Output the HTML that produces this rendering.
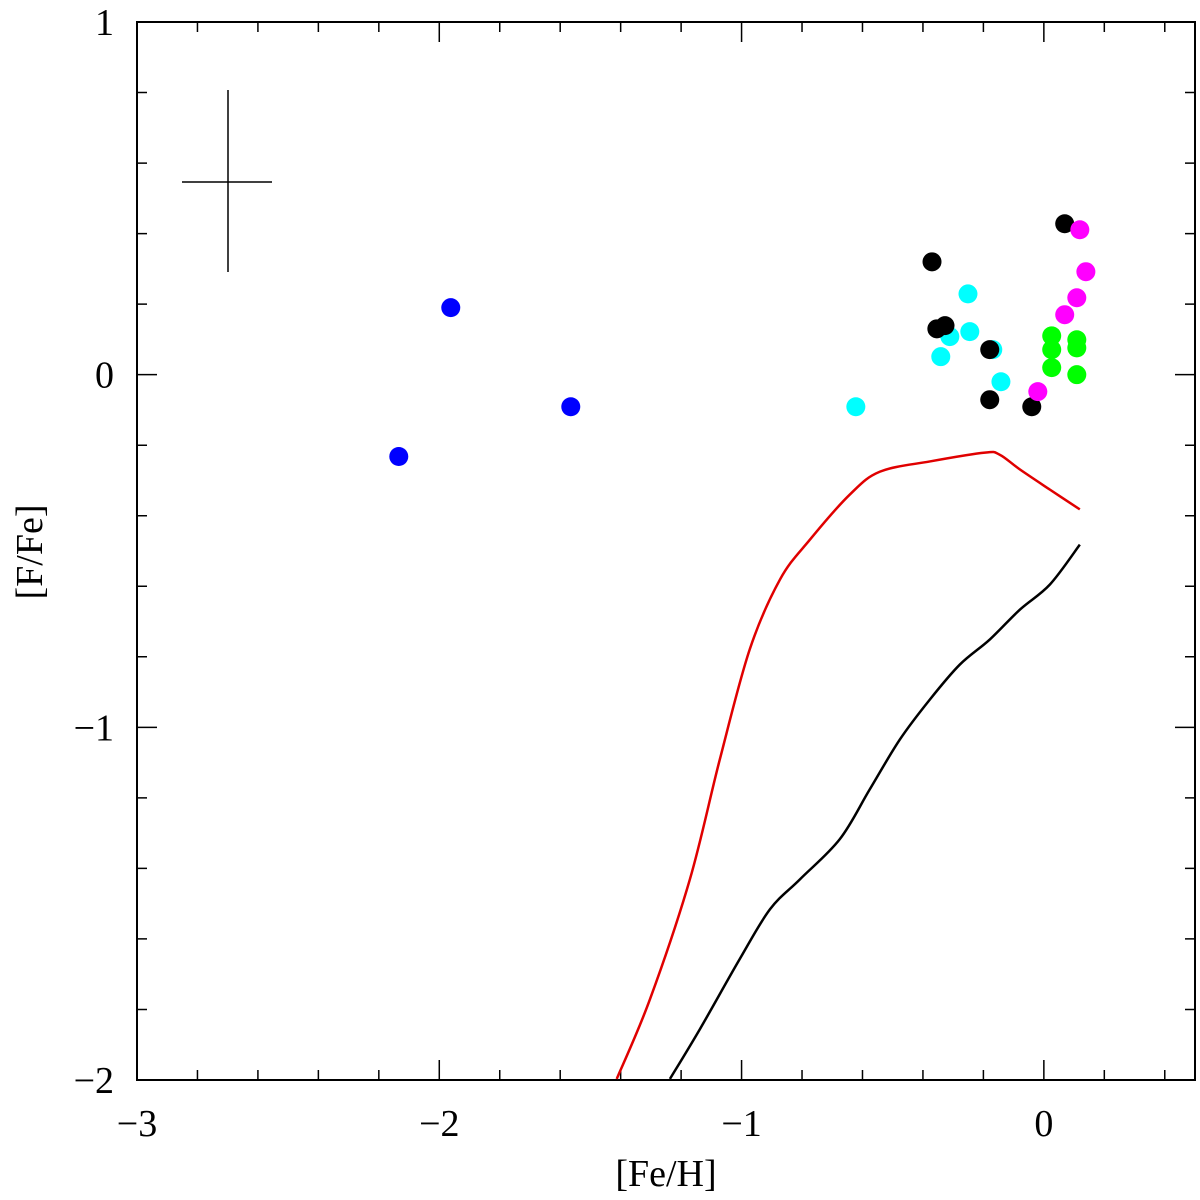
<!DOCTYPE html>
<html><head><meta charset="utf-8"><style>body{margin:0;background:#fff}svg{display:block}text{font-family:"Liberation Serif",serif;font-size:38px;fill:#000}</style></head>
<body>
<svg id="chart" width="1200" height="1200"></svg>
<script>
const xTicks=[-3,-2,-1,0];
const yTicks=[1,0,-1,-2];
const blueX=[-2.134,-1.962,-1.565];
const blueY=[-0.232,0.19,-0.091];
const cyanX=[-0.622,-0.251,-0.245,-0.311,-0.341,-0.169,-0.142];
const cyanY=[-0.091,0.229,0.122,0.108,0.051,0.071,-0.02];
const blackX=[-0.37,-0.354,-0.327,-0.179,-0.179,-0.04,0.069];
const blackY=[0.32,0.13,0.139,0.071,-0.071,-0.091,0.428];
const magX=[0.119,0.139,0.109,0.069,-0.02];
const magY=[0.411,0.292,0.218,0.17,-0.048];
const greenX=[0.026,0.026,0.026,0.109,0.109,0.109];
const greenY=[0.11,0.071,0.02,0.099,0.076,0];
const redX=[-1.413,-1.303,-1.171,-1.072,-0.973,-0.873,-0.774,-0.642,-0.542,-0.377,-0.195,-0.146,-0.079,0.02,0.119];
const redY=[-1.997,-1.771,-1.431,-1.091,-0.779,-0.581,-0.468,-0.34,-0.275,-0.246,-0.221,-0.227,-0.269,-0.326,-0.382];
const modX=[-1.237,-1.138,-1.006,-0.906,-0.807,-0.675,-0.576,-0.476,-0.377,-0.278,-0.179,-0.079,0.02,0.119];
const modY=[-1.997,-1.856,-1.657,-1.516,-1.431,-1.317,-1.176,-1.034,-0.921,-0.822,-0.751,-0.666,-0.595,-0.482];

const L=137,R=1195,T=22,B=1080,X0=-3,X1=0.5,Y0=-2,Y1=1;
const sx=v=>L+(v-X0)/(X1-X0)*(R-L);
const sy=v=>B-(v-Y0)/(Y1-Y0)*(B-T);
const svg=document.getElementById('chart');
const NS='http://www.w3.org/2000/svg';
function mk(tag,attrs){const e=document.createElementNS(NS,tag);for(const k in attrs)e.setAttribute(k,attrs[k]);svg.appendChild(e);return e;}

let fr=mk('rect',{x:L,y:T,width:R-L,height:B-T,fill:'none',stroke:'#000','stroke-width':2});



let d='';
for(let i=0;i<=17;i++){const v=-3+i*0.2;const x=sx(v);const maj=Math.abs(v-Math.round(v))<1e-6;const len=maj?20:10;d+=`M${x},${B}v${-len}M${x},${T}v${len}`;}
for(let i=0;i<=15;i++){const v=-2+i*0.2;const y=sy(v);const maj=Math.abs(v-Math.round(v))<1e-6;const len=maj?20:10;d+=`M${L},${y}h${len}M${R},${y}h${-len}`;}
let tk=mk('path',{d:d,stroke:'#000','stroke-width':1.5,fill:'none'});



xTicks.forEach(v=>{const t=mk('text',{x:sx(v),y:1136,'text-anchor':'middle'});t.textContent=(v<0?'\u2212'+(-v):v);

});
yTicks.forEach(v=>{const t=mk('text',{x:114,y:sy(v)+13,'text-anchor':'end'});t.textContent=(v<0?'\u2212'+(-v):v);

});

let xt=mk('text',{x:666,y:1186,'text-anchor':'middle'});xt.textContent='[Fe/H]';


let yt=mk('text',{x:42,y:552,'text-anchor':'middle',transform:'rotate(-90 42 552)'});yt.textContent='[F/Fe]';



let eb=mk('path',{d:'M228,90V272M182,182H272',stroke:'#000','stroke-width':1.5,fill:'none'});



function line(xs,ys,col,name){
  const P=xs.map((x,i)=>[sx(x),sy(ys[i])]);
  let p='M'+P[0][0]+','+P[0][1];
  for(let i=0;i<P.length-1;i++){
    const p0=P[Math.max(0,i-1)],p1=P[i],p2=P[i+1],p3=P[Math.min(P.length-1,i+2)];
    const c1=[p1[0]+(p2[0]-p0[0])/6,p1[1]+(p2[1]-p0[1])/6];
    const c2=[p2[0]-(p3[0]-p1[0])/6,p2[1]-(p3[1]-p1[1])/6];
    p+=`C${c1[0]},${c1[1]} ${c2[0]},${c2[1]} ${p2[0]},${p2[1]}`;
  }
  const e=mk('path',{d:p,stroke:col,'stroke-width':2.5,fill:'none','stroke-linejoin':'round'});
  
  }
line(redX,redY,'#e00000','model-red-curve');
line(modX,modY,'#000','model-black-curve');

function pts(xs,ys,col,name){xs.forEach((x,i)=>{const c=mk('circle',{cx:sx(x),cy:sy(ys[i]),r:9.5,fill:col});

});}
pts(blueX,blueY,'#0000ff','blue-point');
pts(cyanX,cyanY,'#00ffff','cyan-point');
pts(blackX,blackY,'#000','black-point');
pts(magX,magY,'#ff00ff','magenta-point');
pts(greenX,greenY,'#00ff00','green-point');
</script>
</body></html>
